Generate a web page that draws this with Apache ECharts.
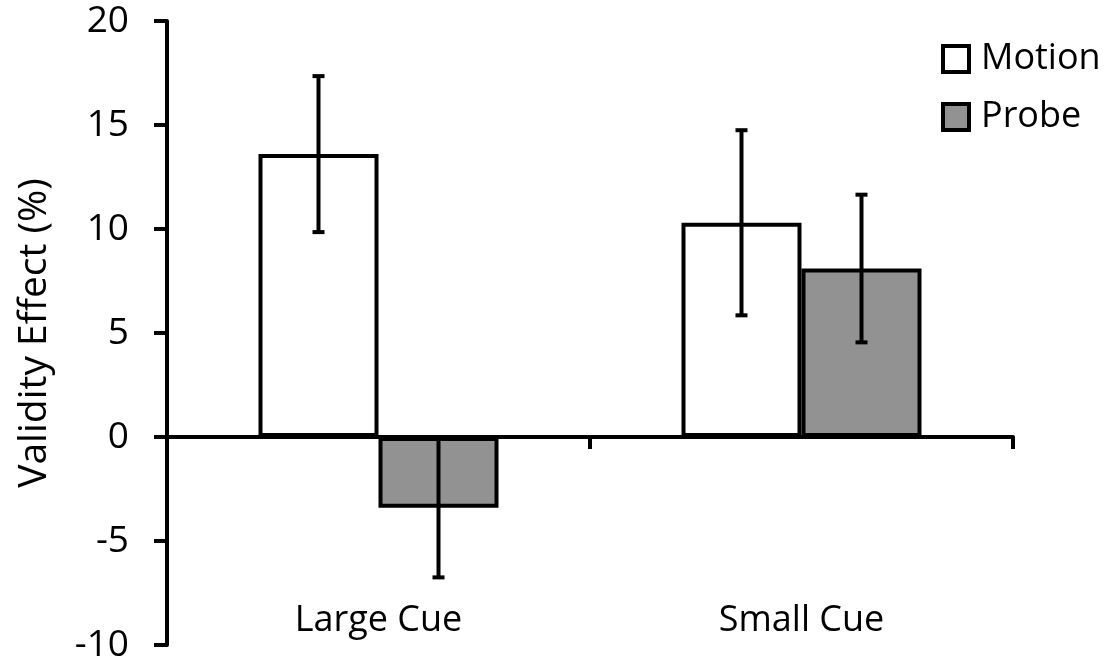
<!DOCTYPE html>
<html>
<head>
<meta charset="utf-8">
<script src="https://cdn.jsdelivr.net/npm/echarts@6/dist/echarts.min.js"></script>
<style>
  html, body { margin: 0; padding: 0; background: #fff; }
  #chart { width: 1106px; height: 666px; }
</style>
</head>
<body>
<div id="chart"></div>
<script>
/** data */
const categories = ['Large Cue', 'Small Cue']
const seriesNames = ['Motion', 'Probe']
const motionValues = [13.6, 10.3]
const motionErrors = [3.75, 4.45]
const probeValues = [-3.4, 8.1]
const probeErrors = [3.35, 3.55]
const yMin = -10
const yMax = 20
const yStep = 5

const FONT = '"Open Sans", sans-serif'
const BAR_W = 120

/** error bar data: [category index, low, high] */
function getErrorData(values, errors) {
    return values.map((v, i) => [i, v - errors[i], v + errors[i]])
}

/** draws one error bar, shifted by offset px from the category center */
function makeErrorRender(offset) {
    return function (params, api) {
        let top = api.coord([api.value(0), api.value(2)])
        let bottom = api.coord([api.value(0), api.value(1)])
        let x = top[0] + offset
        let cap = 6
        let style = { stroke: '#000', lineWidth: 4 }
        return {
            type: 'group',
            children: [
                { type: 'line', shape: { x1: x, y1: top[1], x2: x, y2: bottom[1] }, style: style },
                { type: 'line', shape: { x1: x - cap, y1: top[1], x2: x + cap, y2: top[1] }, style: style },
                { type: 'line', shape: { x1: x - cap, y1: bottom[1], x2: x + cap, y2: bottom[1] }, style: style }
            ]
        }
    }
}

let chart = echarts.init(document.getElementById('chart'))

let option = {
    animation: false,
    textStyle: { fontFamily: FONT, color: '#000' },
    grid: { left: 167, right: 93, top: 21, bottom: 21 },
    legend: {
        data: seriesNames,
        orient: 'vertical',
        left: 936,
        top: 36,
        icon: 'rect',
        itemWidth: 26,
        itemHeight: 26,
        itemGap: 22,
        itemStyle: { borderColor: '#000', borderWidth: 4 },
        textStyle: { fontFamily: FONT, fontSize: 36, color: '#000', lineHeight: 36, padding: [0, 0, 0, 7] }
    },
    xAxis: [
        {
            type: 'category',
            data: categories,
            axisLine: { onZero: true, lineStyle: { color: '#000', width: 4 } },
            axisTick: { show: true, length: 12, lineStyle: { color: '#000', width: 4 } },
            axisLabel: { show: false },
            splitLine: { show: false }
        },
        {
            type: 'category',
            data: categories,
            position: 'bottom',
            axisLine: { show: false, onZero: false },
            axisTick: { show: false },
            axisLabel: { inside: true, margin: 6, fontFamily: FONT, fontSize: 36, color: '#000' },
            splitLine: { show: false }
        }
    ],
    yAxis: {
        type: 'value',
        min: yMin,
        max: yMax,
        interval: yStep,
        name: 'Validity Effect (%)',
        nameLocation: 'middle',
        nameGap: 113,
        nameTextStyle: { fontFamily: FONT, fontSize: 39, color: '#000' },
        axisLine: { show: true, lineStyle: { color: '#000', width: 4 } },
        axisTick: { show: true, length: 13, lineStyle: { color: '#000', width: 4 } },
        axisLabel: { margin: 38, fontFamily: FONT, fontSize: 37, color: '#000' },
        splitLine: { show: false }
    },
    series: [
        {
            name: 'Motion',
            type: 'bar',
            data: motionValues,
            barWidth: BAR_W,
            barGap: '0%',
            itemStyle: { color: '#ffffff', borderColor: '#000', borderWidth: 4 }
        },
        {
            name: 'Probe',
            type: 'bar',
            data: probeValues,
            barWidth: BAR_W,
            barGap: '0%',
            itemStyle: { color: '#929292', borderColor: '#000', borderWidth: 4 }
        },
        {
            type: 'custom',
            renderItem: makeErrorRender(-BAR_W / 2),
            data: getErrorData(motionValues, motionErrors),
            encode: { x: 0, y: [1, 2] },
            z: 10
        },
        {
            type: 'custom',
            renderItem: makeErrorRender(BAR_W / 2),
            data: getErrorData(probeValues, probeErrors),
            encode: { x: 0, y: [1, 2] },
            z: 10
        }
    ]
}

chart.setOption(option)
</script>
</body>
</html>
